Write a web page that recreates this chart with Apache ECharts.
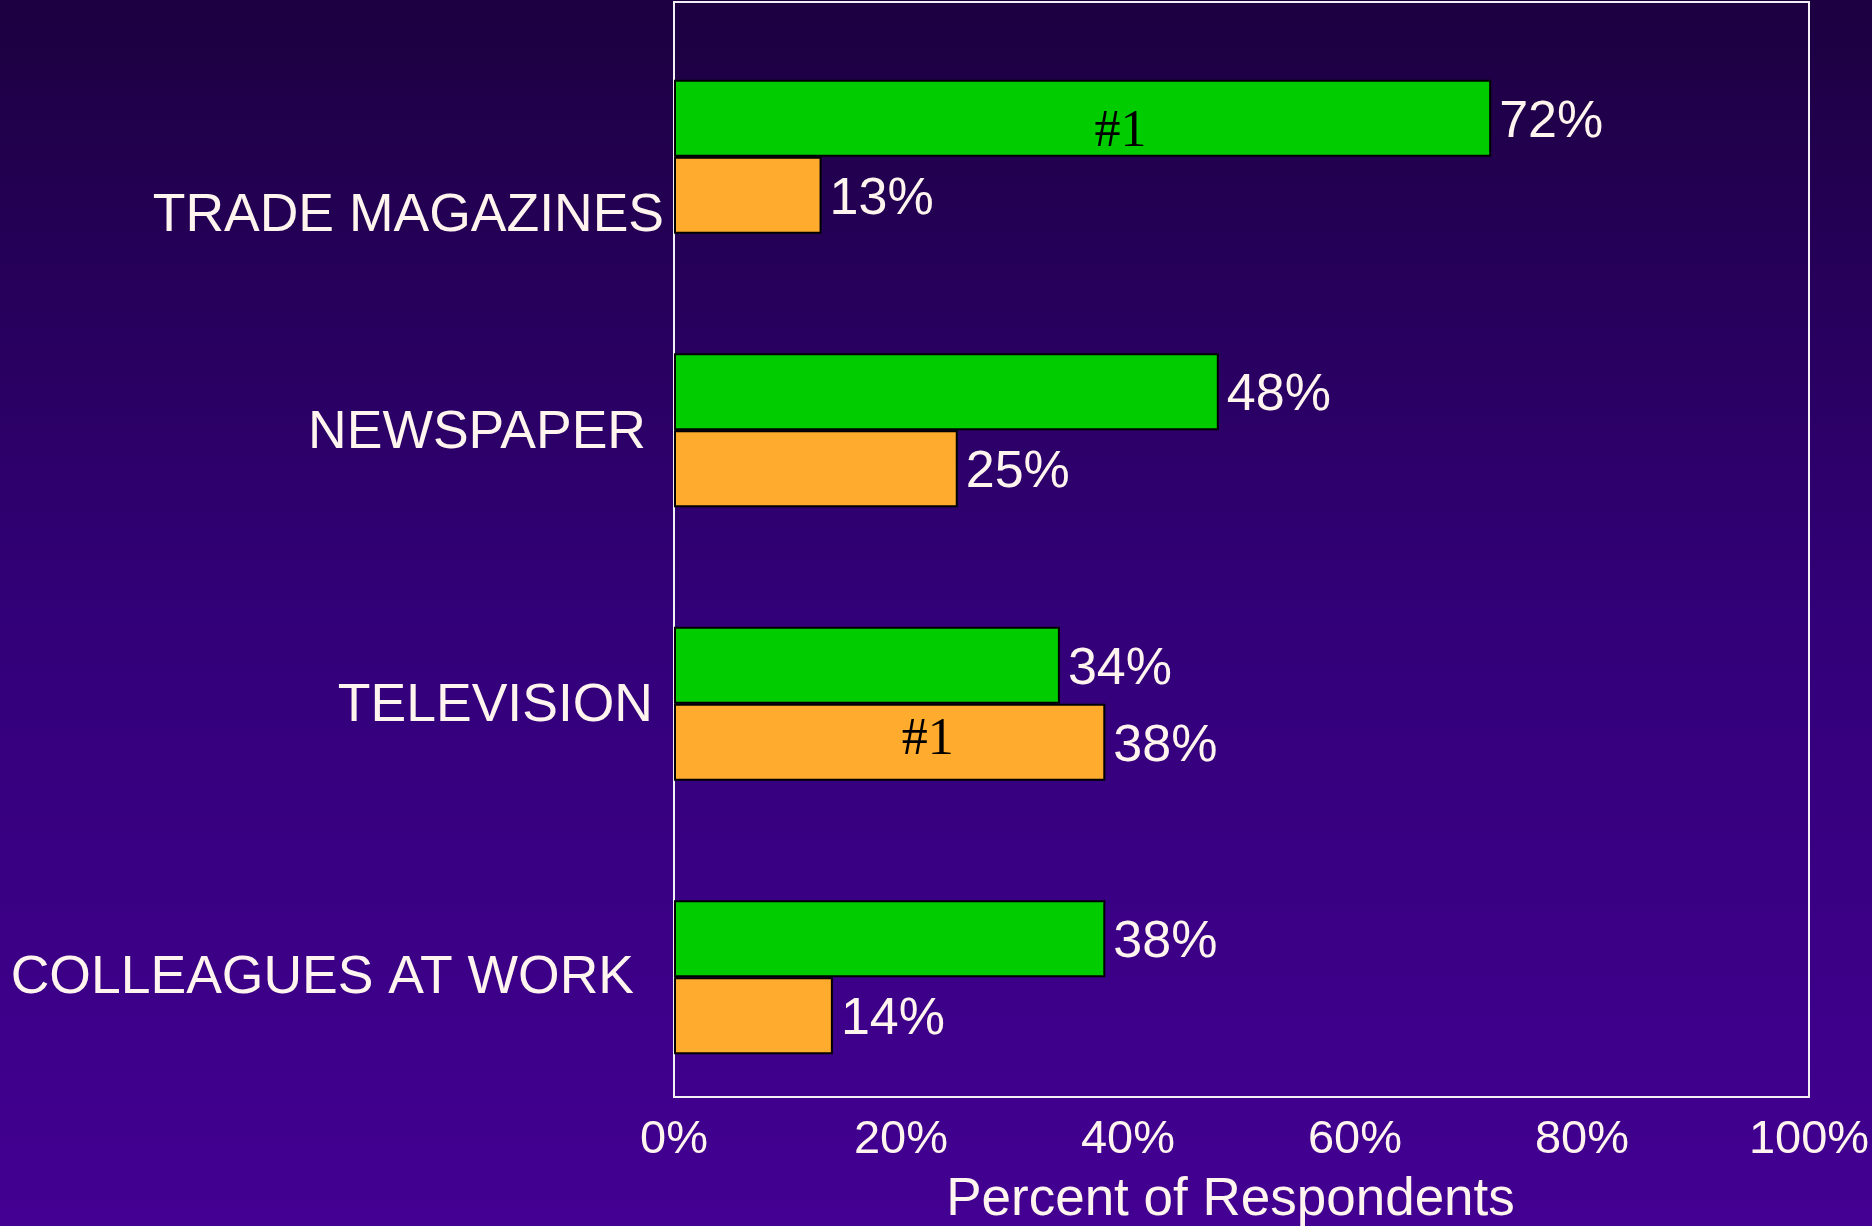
<!DOCTYPE html>
<html>
<head>
<meta charset="utf-8">
<script src="https://cdn.jsdelivr.net/npm/echarts@6/dist/echarts.min.js"></script>
<style>
  html, body { margin: 0; padding: 0; }
  #main { width: 1872px; height: 1226px; }
</style>
</head>
<body>
<div id="main"></div>
<script>
// data
var categories = ['TRADE MAGAZINES', 'NEWSPAPER', 'TELEVISION', 'COLLEAGUES AT WORK'];
var greenValues = [72, 48, 34, 38];
var orangeValues = [13, 25, 38, 14];
// which bar carries the "#1" mark
var greenRank1 = [true, false, false, false];
var orangeRank1 = [false, false, true, false];
var xTicks = [0, 20, 40, 60, 80, 100];

var textColor = '#fff5ee';
var sans = 'Liberation Sans';

// small per-label nudges so the category names sit like in the original
var catPad = [[118, 0, 0, 0], [6, 18, 0, 0], [4, 11, 0, 0], [2, 30, 0, 0]];
var rich = {};
catPad.forEach(function (p, i) {
  rich['c' + i] = { color: textColor, fontSize: 53.5, fontFamily: sans, padding: p };
});

var myChart = echarts.init(document.getElementById('main'));

function rankLabel(flags, dy) {
  return {
    show: true,
    position: 'inside',
    offset: [38, dy],
    color: '#000',
    fontSize: 52,
    fontFamily: 'Liberation Serif',
    formatter: function (p) { return flags[p.dataIndex] ? '#1' : ''; }
  };
}

var valueLabel = {
  show: true,
  position: 'right',
  distance: 8,
  offset: [0, 4],
  color: textColor,
  fontSize: 52,
  fontFamily: sans,
  formatter: '{c}%'
};

var option = {
  backgroundColor: new echarts.graphic.LinearGradient(0, 0, 0, 1, [
    { offset: 0, color: '#1c0040' },
    { offset: 0.5, color: '#320078' },
    { offset: 1, color: '#430092' }
  ]),
  animation: false,
  grid: [
    // frame
    { left: 674, right: 63, top: 2, bottom: 129, show: true, borderColor: '#f2f0f4', borderWidth: 2,
      backgroundColor: 'transparent', outerBoundsMode: 'none', containLabel: false },
    // data
    { left: 674, right: 63, top: 20, height: 1094, outerBoundsMode: 'none', containLabel: false }
  ],
  xAxis: [
    { gridIndex: 0, type: 'value', min: 0, max: 100, show: false },
    {
      gridIndex: 1, type: 'value', min: xTicks[0], max: xTicks[xTicks.length - 1], interval: 20,
      axisLine: { show: false }, axisTick: { show: false }, splitLine: { show: false },
      axisLabel: { color: textColor, fontSize: 47, fontFamily: sans, margin: 3, formatter: '{value}%' },
      name: 'Percent of Respondents', nameLocation: 'middle', nameGap: 60,
      nameTextStyle: { color: textColor, fontSize: 53, fontFamily: sans, padding: [0, 22, 0, 0] }
    }
  ],
  yAxis: [
    { gridIndex: 0, type: 'category', data: categories, show: false },
    {
      gridIndex: 1, type: 'category', data: categories, inverse: true,
      axisLine: { show: false }, axisTick: { show: false },
      axisLabel: {
        margin: 10,
        formatter: function (v, i) { return '{c' + i + '|' + v + '}'; },
        rich: rich
      }
    },
    { gridIndex: 1, type: 'category', data: categories, inverse: true, show: false }
  ],
  series: [
    {
      name: 'green', type: 'bar', xAxisIndex: 1, yAxisIndex: 1, data: greenValues,
      barWidth: 77, barGap: 0,
      itemStyle: { color: '#00cc00', borderColor: '#000', borderWidth: 2 },
      label: valueLabel
    },
    {
      name: 'orange', type: 'bar', xAxisIndex: 1, yAxisIndex: 1, data: orangeValues,
      barWidth: 77, barGap: 0,
      itemStyle: { color: '#ffab2d', borderColor: '#000', borderWidth: 2 },
      label: valueLabel
    },
    {
      name: 'greenRank', type: 'bar', xAxisIndex: 1, yAxisIndex: 2, data: greenValues,
      barWidth: 77, barGap: 0, silent: true,
      itemStyle: { color: 'transparent' },
      label: rankLabel(greenRank1, 14)
    },
    {
      name: 'orangeRank', type: 'bar', xAxisIndex: 1, yAxisIndex: 2, data: orangeValues,
      barWidth: 77, barGap: 0, silent: true,
      itemStyle: { color: 'transparent' },
      label: rankLabel(orangeRank1, -2)
    }
  ]
};

myChart.setOption(option);
</script>
</body>
</html>
